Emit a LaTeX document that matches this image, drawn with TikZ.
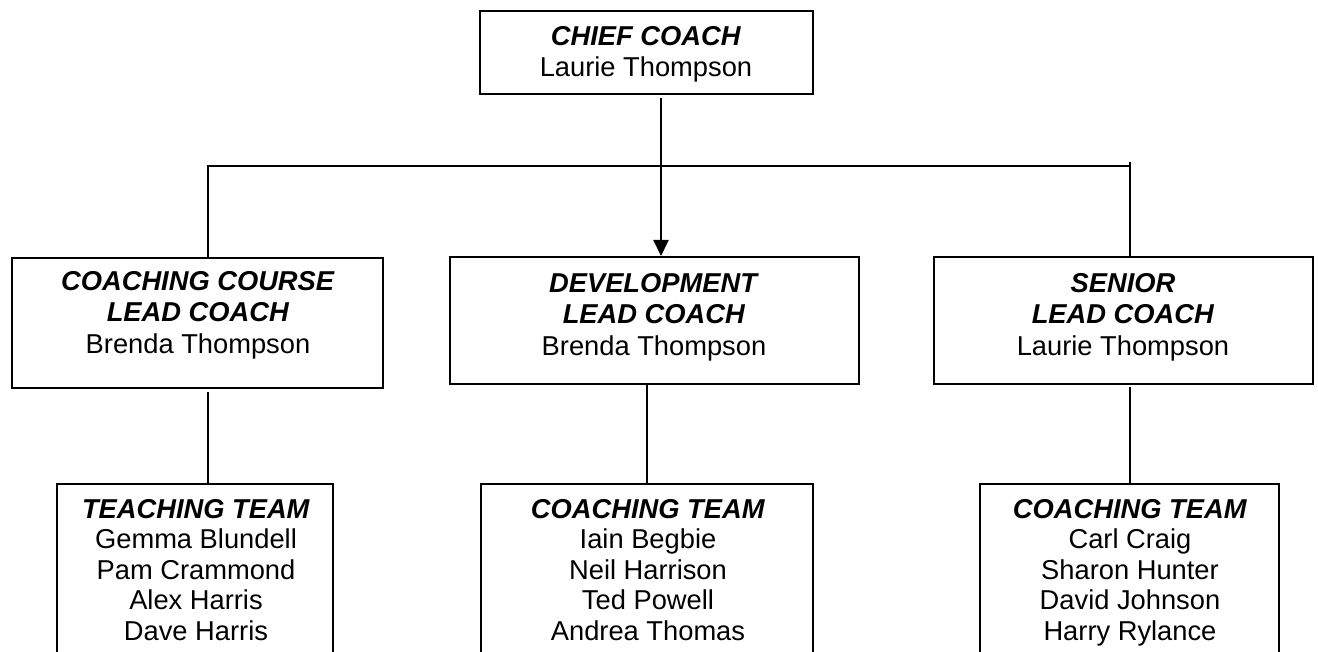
\documentclass[tikz,border=0pt]{standalone}
\usepackage{fontspec}
\setmainfont{Liberation Sans}
\usetikzlibrary{arrows.meta}
\begin{document}
\begin{tikzpicture}[x=1pt,y=-1pt,
  box/.style={draw, line width=1.9pt, inner sep=0pt, anchor=north west},
  txt/.style={anchor=north, inner sep=0pt, align=center, font=\fontsize{27.3}{31.5}\selectfont},
  teamtxt/.style={anchor=north, inner sep=0pt, align=center, font=\fontsize{27.3}{30.5}\selectfont},
  wire/.style={line width=1.9pt},
  arr/.style={wire, -{Triangle[width=15pt,length=16pt]}}]
\useasboundingbox[fill=white] (0,0) rectangle (1318,652);
\newcommand{\hd}[1]{\textbf{\textit{#1}}}

% boxes
\node[box, minimum width=333, minimum height=83] (chief) at (479,10) {};
\node[box, minimum width=371, minimum height=130] (lead1) at (11,257) {};
\node[box, minimum width=409, minimum height=127] (lead2) at (449,256) {};
\node[box, minimum width=379, minimum height=127] (lead3) at (933,256) {};
\node[box, minimum width=276, minimum height=200] (team1) at (56,483) {};
\node[box, minimum width=332, minimum height=200] (team2) at (480,483) {};
\node[box, minimum width=299, minimum height=200] (team3) at (979,483) {};

% texts
\node[txt] (chiefT) at (646,26) {\hd{CHIEF COACH}\\Laurie Thompson};
\node[txt] (lead1T) at (198,271) {\hd{COACHING COURSE}\\\hd{LEAD COACH}\\Brenda Thompson};
\node[txt] (lead2T) at (654,273) {\hd{DEVELOPMENT}\\\hd{LEAD COACH}\\Brenda Thompson};
\node[txt] (lead3T) at (1123,273) {\hd{SENIOR}\\\hd{LEAD COACH}\\Laurie Thompson};
\node[teamtxt] (team1T) at (196,499) {\hd{TEACHING TEAM}\\Gemma Blundell\\Pam Crammond\\Alex Harris\\Dave Harris};
\node[teamtxt] (team2T) at (648,499) {\hd{COACHING TEAM}\\Iain Begbie\\Neil Harrison\\Ted Powell\\Andrea Thomas};
\node[teamtxt] (team3T) at (1130,499) {\hd{COACHING TEAM}\\Carl Craig\\Sharon Hunter\\David Johnson\\Harry Rylance};

% connector points
\coordinate (cTop) at (661,98);
\coordinate (jL) at (208,166);
\coordinate (jR) at (1130,166);
\coordinate (jRtop) at (1130,162);
\coordinate (d1) at (208,392);
\coordinate (d2) at (647,383);
\coordinate (d3) at (1130,387);

% connectors
\draw[arr] (cTop) -- (cTop |- lead2.north);
\draw[wire] (jL |- lead1.north) -- (jL) -- (jR);
\draw[wire] (jRtop) -- (jRtop |- lead3.north);
\draw[wire] (d1) -- (d1 |- team1.north);
\draw[wire] (d2) -- (d2 |- team2.north);
\draw[wire] (d3) -- (d3 |- team3.north);
\end{tikzpicture}
\end{document}
